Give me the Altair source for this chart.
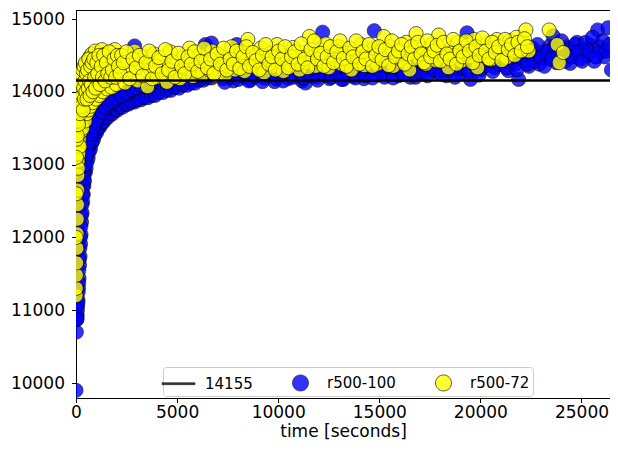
import altair as alt
import pandas as pd

# ---------------- data ----------------
ref_value = 14155
series_names = ["14155", "r500-100", "r500-72"]
series_colors = ["black", "blue", "yellow"]
x_ticks = [0, 5000, 10000, 15000, 20000, 25000]
y_ticks = [10000, 11000, 12000, 13000, 14000, 15000]

# r500-100 : (time [s], value)
blue_early = [
    (0, 9900), (20, 10700), (40, 10870), (60, 10930), (80, 11060), (100, 11140),
    (125, 11310), (150, 11440), (175, 11620), (200, 11740), (225, 11910),
    (250, 12040), (275, 12210), (300, 12340), (330, 12490), (360, 12590),
    (390, 12710), (420, 12780), (460, 12890), (500, 12950), (550, 13040),
    (600, 13090), (660, 13180), (720, 13220), (790, 13300), (860, 13340),
    (940, 13410), (1020, 13440), (1100, 13500), (1190, 13520), (1280, 13570),
    (1380, 13590), (1480, 13640), (1590, 13650), (1700, 13700), (1820, 13700),
    (1940, 13750), (2060, 13750), (2190, 13790), (2320, 13790), (2460, 13830),
    (2600, 13830), (2750, 13860), (2900, 13860), (3060, 13890), (3220, 13890),
    (3390, 13920), (3560, 13920), (3740, 13950), (3920, 13950), (4100, 13990),
    (4300, 13990), (4500, 14020), (4700, 14020), (4900, 14060), (5100, 14050),
    (5300, 14090), (5500, 14090), (5700, 14120), (5900, 14120), (6100, 14160),
    (6300, 14160), (6500, 14190), (6700, 14190), (6900, 14220),
]
blue_band = [
    (30, 10900), (70, 11000), (110, 11250), (140, 11550), (190, 11850),
    (240, 12150), (290, 12450), (340, 12700), (400, 12900), (480, 13100),
    (570, 13250), (680, 13380), (800, 13480), (920, 13560), (1050, 13640),
    (1200, 13700), (1350, 13760), (1520, 13810), (1700, 13850), (1900, 13900),
    (2100, 13930), (2350, 13970), (2600, 14000), (2900, 14630), (3100, 14060),
    (3400, 14100), (3700, 14130), (4000, 14160), (4300, 14190), (4600, 14220),
    (4900, 14250), (5200, 14280), (5500, 14300), (5800, 14320), (6100, 14350),
    (6400, 14650), (6700, 14670), (7000, 14380),
]
blue_band2 = [
    (50, 10880), (90, 11100), (130, 11380), (165, 11700), (215, 12000),
    (265, 12300), (315, 12600), (370, 12800), (440, 13000), (520, 13150),
    (620, 13300), (740, 13420), (860, 13520), (990, 13600), (1130, 13660),
    (1280, 13720), (1440, 13780), (1620, 13830), (1800, 13870), (2000, 13910),
    (2230, 13950), (2480, 13990), (2750, 14030), (3000, 14050), (3250, 14080),
    (3550, 14110), (3850, 14140), (4150, 14170), (4450, 14200), (4750, 14230),
    (5050, 14250), (5350, 14270), (5650, 14300), (5950, 14220), (6250, 14250),
    (6550, 14280), (6850, 14300),
]
blue_late = [
    (7100, 14240), (7270, 14180), (7440, 14320), (7600, 14230), (7780, 14150),
    (7950, 14650), (8120, 14280), (8290, 14200), (8460, 14380), (8630, 14160),
    (8800, 14300), (8970, 14240), (9140, 14420), (9310, 14190), (9480, 14270),
    (9650, 14350), (9820, 14140), (9990, 14220), (10160, 14460), (10330, 14250),
    (10500, 14180), (10670, 14310), (10840, 14400), (11010, 14230), (11180, 14150),
    (11350, 14120), (11520, 14280), (11690, 14350), (11860, 14200), (12030, 14440),
    (12200, 14820), (12370, 14260), (12540, 14180), (12710, 14330), (12880, 14230),
    (13050, 14390), (13220, 14170), (13390, 14290), (13560, 14450), (13730, 14210),
    (13900, 14340), (14070, 14250), (14240, 14180), (14410, 14420), (14580, 14300),
    (14750, 14840), (14920, 14230), (15090, 14360), (15260, 14200), (15430, 14480),
    (15600, 14290), (15770, 14380), (15940, 14220), (16110, 14330), (16280, 14450),
    (16450, 14260), (16620, 14370), (16790, 14200), (16960, 14410), (17130, 14310),
    (17300, 14250), (17470, 14520), (17640, 14340), (17810, 14270), (17980, 14430),
    (18150, 14300), (18320, 14220), (18490, 14380), (18660, 14480), (18830, 14320),
    (19000, 14250), (19170, 14420), (19340, 14810), (19510, 14170), (19680, 14360),
    (19850, 14540), (20020, 14300), (20190, 14450), (20360, 14380), (20530, 14600),
    (20700, 14330), (20870, 14480), (21040, 14400), (21210, 14560), (21380, 14290),
    (21550, 14470), (21720, 14380), (21890, 14170), (22060, 14520), (22230, 14420),
    (22400, 14350), (22570, 14600), (22740, 14480), (22910, 14380), (23080, 14550),
    (23250, 14450), (23420, 14630), (23590, 14770), (23760, 14400), (23930, 14540),
    (24100, 14470), (24270, 14620), (24440, 14390), (24610, 14560), (24780, 14680),
    (24950, 14450), (25120, 14580), (25290, 14500), (25460, 14640), (25630, 14420),
    (25800, 14850), (25970, 14550), (26140, 14480), (26310, 14880), (26480, 14300),
]
blue_late2 = [
    (7185, 14260), (7355, 14130), (7520, 14350), (7690, 14200), (7865, 14290),
    (8035, 14170), (8205, 14400), (8375, 14250), (8545, 14150), (8715, 14330),
    (8885, 14210), (9055, 14290), (9225, 14140), (9395, 14380), (9565, 14230),
    (9735, 14300), (9905, 14180), (10075, 14350), (10245, 14150), (10415, 14280),
    (10585, 14420), (10755, 14200), (10925, 14330), (11095, 14260), (11265, 14190),
    (11435, 14380), (11605, 14220), (11775, 14300), (11945, 14160), (12115, 14400),
    (12285, 14230), (12455, 14350), (12625, 14200), (12795, 14460), (12965, 14280),
    (13135, 14170), (13305, 14380), (13475, 14250), (13645, 14330), (13815, 14190),
    (13985, 14420), (14155, 14300), (14325, 14220), (14495, 14360), (14665, 14190),
    (14835, 14450), (15005, 14290), (15175, 14400), (15345, 14250), (15515, 14330),
    (15685, 14190), (15855, 14450), (16025, 14300), (16195, 14240), (16365, 14380),
    (16535, 14200), (16705, 14330), (16875, 14460), (17045, 14270), (17215, 14380),
    (17385, 14220), (17555, 14400), (17725, 14300), (17895, 14480), (18065, 14240),
    (18235, 14380), (18405, 14300), (18575, 14450), (18745, 14200), (18915, 14400),
    (19085, 14330), (19255, 14520), (19425, 14280), (19595, 14420), (19765, 14350),
    (19935, 14230), (20105, 14500), (20275, 14360), (20445, 14440), (20615, 14280),
    (20785, 14550), (20955, 14380), (21125, 14460), (21295, 14330), (21465, 14580),
    (21635, 14420), (21805, 14300), (21975, 14480), (22145, 14600), (22315, 14380),
    (22485, 14520), (22655, 14420), (22825, 14650), (22995, 14470), (23165, 14350),
    (23335, 14560), (23505, 14450), (23675, 14620), (23845, 14500), (24015, 14700),
    (24185, 14420), (24355, 14580), (24525, 14480), (24695, 14650), (24865, 14550),
    (25035, 14420), (25205, 14680), (25375, 14560), (25545, 14750), (25715, 14480),
    (25885, 14620), (26055, 14700), (26225, 14560), (26395, 14650),
]

# r500-72 : (time [s], value)
yellow_early = [
    (0, 11200), (10, 11300), (20, 11480), (30, 11650), (40, 11850), (50, 12050),
    (60, 12250), (70, 12450), (80, 12650), (90, 12850), (100, 13050), (110, 12950),
    (120, 13250), (135, 13150), (150, 13450), (165, 13350), (180, 13650),
    (195, 13250), (210, 13850), (230, 13450), (250, 14000), (270, 13550),
    (290, 13750), (310, 14150), (330, 13500), (350, 13900), (370, 14250),
    (390, 13650), (410, 14050), (430, 14300), (450, 13600), (475, 13850),
    (500, 14350), (530, 13700), (560, 14100), (590, 14420), (620, 13750),
    (650, 13950), (680, 14480), (710, 13800), (740, 14200), (780, 14520),
    (820, 13850), (860, 14050), (900, 14300), (950, 14560), (1000, 13900),
    (1050, 14150), (1100, 14450), (1160, 13950), (1220, 14250), (1280, 14580),
    (1340, 14000), (1400, 14380), (1470, 14520), (1540, 14040), (1610, 14300),
    (1680, 14470), (1760, 14060), (1840, 14400), (1920, 14580), (2000, 14100),
]
yellow_early2 = [
    (5, 12000), (15, 12600), (25, 13100), (35, 13350), (45, 13550), (55, 13700),
    (65, 13400), (75, 13800), (85, 13600), (95, 13900), (105, 13700), (115, 14000),
    (125, 13550), (140, 13950), (155, 14100), (170, 13800), (185, 14150),
    (200, 13700), (215, 14200), (235, 13900), (255, 14250), (275, 13800),
    (295, 14100), (315, 13950), (335, 14300), (355, 13750), (375, 14050),
    (395, 14350), (420, 13900), (440, 14150), (465, 14400), (490, 14000),
    (515, 14250), (545, 13900), (575, 14300), (605, 14050), (635, 14450),
    (665, 14150), (695, 13950), (725, 14350), (760, 14100), (800, 14400),
    (840, 14000), (880, 14450), (925, 14200), (975, 14050), (1025, 14400),
    (1075, 14250), (1130, 14500), (1190, 14100), (1250, 14350), (1310, 14200),
    (1370, 14500), (1435, 14150), (1505, 14400), (1575, 14250), (1645, 14550),
    (1720, 14200), (1800, 14300), (1880, 14450), (1960, 14200), (2050, 14500),
]
yellow_late = [
    (2100, 14350), (2260, 14500), (2420, 14120), (2580, 14420), (2740, 14280),
    (2900, 14560), (3060, 14150), (3220, 14380), (3380, 14480), (3540, 14070),
    (3700, 14300), (3860, 14520), (4020, 14200), (4180, 14430), (4340, 14340),
    (4500, 14130), (4660, 14550), (4820, 14260), (4980, 14400), (5140, 14180),
    (5300, 14470), (5460, 14320), (5620, 14600), (5780, 14210), (5940, 14380),
    (6100, 14500), (6260, 14240), (6420, 14420), (6580, 14300), (6740, 14560),
    (6900, 14220), (7060, 14400), (7220, 14480), (7380, 14230), (7540, 14350),
    (7700, 14620), (7860, 14300), (8020, 14450), (8180, 14540), (8340, 14280),
    (8500, 14720), (8660, 14380), (8820, 14500), (8980, 14330), (9140, 14600),
    (9300, 14260), (9460, 14440), (9620, 14530), (9780, 14350), (9940, 14650),
    (10100, 14410), (10260, 14280), (10420, 14500), (10580, 14370), (10740, 14610),
    (10900, 14450), (11060, 14300), (11220, 14540), (11380, 14400), (11540, 14760),
    (11700, 14480), (11860, 14350), (12020, 14580), (12180, 14420), (12340, 14660),
    (12500, 14330), (12660, 14500), (12820, 14440), (12980, 14620), (13140, 14380),
    (13300, 14530), (13460, 14460), (13620, 14300), (13780, 14580), (13940, 14420),
    (14100, 14650), (14260, 14360), (14420, 14520), (14580, 14440), (14740, 14600),
    (14900, 14380), (15060, 14560), (15220, 14760), (15380, 14470), (15540, 14620),
    (15700, 14350), (15860, 14500), (16020, 14580), (16180, 14420), (16340, 14680),
    (16500, 14300), (16660, 14550), (16820, 14800), (16980, 14460), (17140, 14600),
    (17300, 14380), (17460, 14520), (17620, 14650), (17780, 14430), (17940, 14780),
    (18100, 14560), (18260, 14470), (18420, 14330), (18580, 14600), (18740, 14500),
    (18900, 14680), (19060, 14420), (19220, 14560), (19380, 14640), (19540, 14480),
    (19700, 14720), (19860, 14330), (20020, 14580), (20180, 14500), (20340, 14660),
    (20500, 14440), (20660, 14600), (20820, 14720), (20980, 14520), (21140, 14640),
    (21300, 14470), (21460, 14700), (21620, 14560), (21780, 14750), (21940, 14600),
    (22100, 14680), (22250, 14850), (22400, 14560), (23400, 14850), (23800, 14650),
    (23900, 14400), (24100, 14540),
]
yellow_late2 = [
    (2180, 14250), (2340, 14400), (2500, 14550), (2660, 14180), (2820, 14450),
    (2980, 14330), (3140, 14500), (3300, 14220), (3460, 14400), (3620, 14560),
    (3780, 14180), (3940, 14350), (4100, 14470), (4260, 14250), (4420, 14580),
    (4580, 14300), (4740, 14420), (4900, 14200), (5060, 14530), (5220, 14350),
    (5380, 14250), (5540, 14480), (5700, 14380), (5860, 14550), (6020, 14280),
    (6180, 14420), (6340, 14600), (6500, 14330), (6660, 14450), (6820, 14250),
    (6980, 14520), (7140, 14380), (7300, 14600), (7460, 14300), (7620, 14450),
    (7780, 14380), (7940, 14560), (8100, 14320), (8260, 14480), (8420, 14620),
    (8580, 14350), (8740, 14540), (8900, 14430), (9060, 14300), (9220, 14500),
    (9380, 14650), (9540, 14380), (9700, 14480), (9860, 14300), (10020, 14560),
    (10180, 14450), (10340, 14620), (10500, 14330), (10660, 14480), (10820, 14550),
    (10980, 14380), (11140, 14660), (11300, 14450), (11460, 14330), (11620, 14580),
    (11780, 14700), (11940, 14450), (12100, 14530), (12260, 14350), (12420, 14480),
    (12580, 14620), (12740, 14400), (12900, 14550), (13060, 14700), (13220, 14460),
    (13380, 14350), (13540, 14600), (13700, 14480), (13860, 14700), (14020, 14380),
    (14180, 14550), (14340, 14450), (14500, 14650), (14660, 14350), (14820, 14500),
    (14980, 14620), (15140, 14440), (15300, 14580), (15460, 14360), (15620, 14700),
    (15780, 14480), (15940, 14560), (16100, 14650), (16260, 14380), (16420, 14520),
    (16580, 14620), (16740, 14450), (16900, 14680), (17060, 14520), (17220, 14400),
    (17380, 14700), (17540, 14480), (17700, 14560), (17860, 14640), (18020, 14420),
    (18180, 14680), (18340, 14520), (18500, 14450), (18660, 14720), (18820, 14380),
    (18980, 14560), (19140, 14480), (19300, 14700), (19460, 14560), (19620, 14400),
    (19780, 14620), (19940, 14500), (20100, 14740), (20260, 14560), (20420, 14450),
    (20580, 14680), (20740, 14540), (20900, 14620), (21060, 14430), (21220, 14720),
    (21380, 14580), (21540, 14650), (21700, 14500), (21860, 14680), (22020, 14560),
    (22180, 14730), (22330, 14620),
]

# ---------------- build table ----------------
rows = []
for t, v in blue_early + blue_band + blue_band2 + blue_late + blue_late2:
    rows.append({"t": t, "v": v, "series": "r500-100"})
for t, v in yellow_early + yellow_early2 + yellow_late + yellow_late2:
    rows.append({"t": t, "v": v, "series": "r500-72"})
df = pd.DataFrame(rows)

LINE = "M-1.375,-0.075 L1.375,-0.075 L1.375,0.075 L-1.375,0.075 Z"
CIRC = "M0.667,0 A0.667,0.667 0 1,1 -0.667,0 A0.667,0.667 0 1,1 0.667,0 Z"

W, H = 534, 388
FONT = "DejaVu Sans"

x_enc = alt.X(
    "t:Q",
    scale=alt.Scale(domain=[0, 26410], nice=False, zero=False),
    axis=alt.Axis(values=x_ticks, format="d", title="time [seconds]",
                  labelPadding=2, titlePadding=3, labelFlush=False),
)
y_enc = alt.Y(
    "v:Q",
    scale=alt.Scale(domain=[9794, 15124], nice=False, zero=False),
    axis=alt.Axis(values=y_ticks, format="d", title=None, labelPadding=7,
                  labelFlush=False),
)

points = alt.Chart(df).mark_point(
    filled=True, size=441, opacity=0.8, stroke="black", strokeWidth=0.8, clip=True
).encode(
    x=x_enc,
    y=y_enc,
    color=alt.Color("series:N", scale=alt.Scale(domain=series_names, range=series_colors),
                    legend=alt.Legend(title=None)),
    shape=alt.Shape("series:N", scale=alt.Scale(domain=series_names, range=[LINE, CIRC, CIRC]),
                    legend=alt.Legend(title=None)),
)

ref_line = alt.Chart(pd.DataFrame({"v": [ref_value]})).mark_rule(
    color="black", strokeWidth=2.6
).encode(y=alt.Y("v:Q"))

top_spine = alt.Chart(pd.DataFrame({"k": [0]})).mark_rule(
    color="black", strokeWidth=1
).encode(x=alt.value(0), x2=alt.value(W), y=alt.value(0.5))

chart = alt.layer(points, ref_line, top_spine).properties(
    width=W, height=H,
    autosize=alt.AutoSizeParams(type="none"),
    padding={"left": 68, "top": 2, "right": 0, "bottom": 44},
).configure_view(stroke=None).configure_axis(
    domainColor="black", tickColor="black", labelColor="black", titleColor="black",
    labelFont=FONT, titleFont=FONT, labelFontSize=17, titleFontSize=17,
    titleFontWeight="normal", grid=False, tickSize=4.5, domainWidth=1, tickWidth=1,
).configure_legend(
    orient="none", legendX=87, legendY=357, direction="horizontal",
    labelFont=FONT, labelFontSize=15, labelColor="black",
    symbolSize=576, symbolStrokeColor="black", symbolStrokeWidth=0.8,
    labelOffset=14, columnPadding=35, padding=3,
    fillColor="white", strokeColor="#cccccc", cornerRadius=3,
)

chart.save("out.html", embed_options={"renderer": "svg", "actions": False})
